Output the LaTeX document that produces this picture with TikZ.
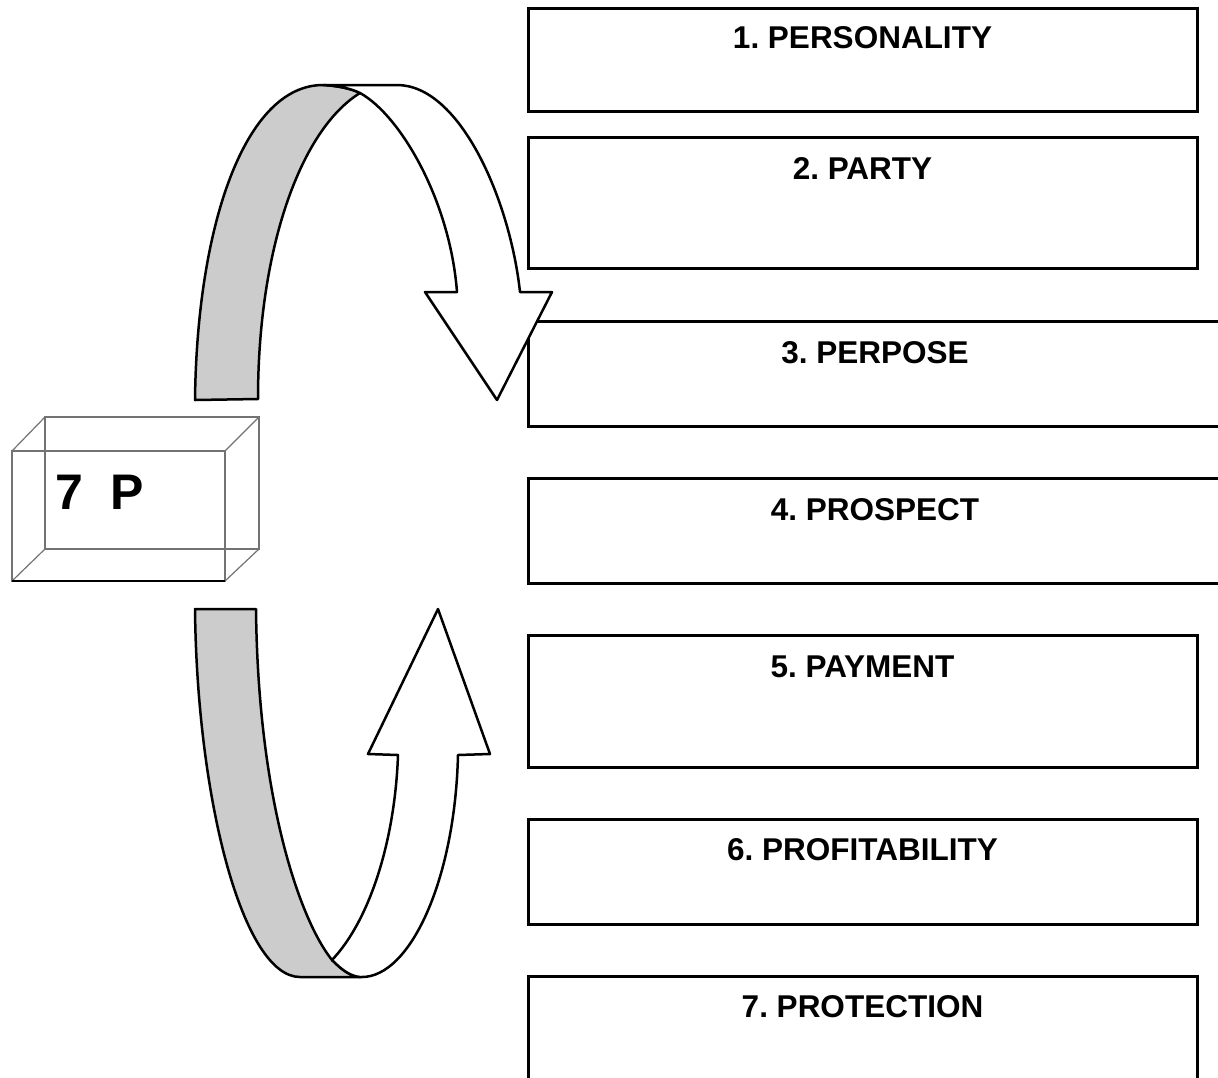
\documentclass[tikz,border=0pt]{standalone}
\usepackage{fontspec}
\setmainfont{Liberation Sans}
\newfontfamily\boldsans{Liberation Sans Bold}
\frenchspacing
\begin{document}
\begin{tikzpicture}[x=1pt,y=-1pt,
  pbox/.style={draw=black, line width=3pt, rectangle, inner sep=0pt, outer sep=0pt, anchor=north west},
  ptext/.style={font=\boldsans\fontsize{31.5}{37}\selectfont, anchor=base, inner sep=0pt},
  ribbon/.style={draw=black, line width=2.5pt, line join=round},
  backface/.style={ribbon, fill=gray!40},
  frontface/.style={ribbon, fill=white},
  cubeline/.style={draw=black!55, line width=1.2pt},
  cubebase/.style={draw=black, line width=2.5pt}]
\useasboundingbox (0,0) rectangle (1218,1077);
\clip (0,0) rectangle (1218,1077);
\fill[white] (0,0) rectangle (1218,1077);

% boxes
\node[pbox, minimum width=669pt, minimum height=103pt] (b1) at (528,8) {};
\node[pbox, minimum width=669pt, minimum height=131pt] (b2) at (528,137) {};
\node[pbox, minimum width=694pt, minimum height=105pt] (b3) at (528,321) {};
\node[pbox, minimum width=694pt, minimum height=105pt] (b4) at (528,478) {};
\node[pbox, minimum width=669pt, minimum height=132pt] (b5) at (528,635) {};
\node[pbox, minimum width=669pt, minimum height=105pt] (b6) at (528,819) {};
\node[pbox, minimum width=669pt, minimum height=130pt] (b7) at (528,976) {};

\node[ptext] (t1) at ([yshift=-40pt]b1.north) {1. PERSONALITY};
\node[ptext] (t2) at ([yshift=-42pt]b2.north) {2. PARTY};
\node[ptext] (t3) at ([yshift=-42pt]b3.north) {3. PERPOSE};
\node[ptext] (t4) at ([yshift=-42pt]b4.north) {4. PROSPECT};
\node[ptext] (t5) at ([yshift=-42pt]b5.north) {5. PAYMENT};
\node[ptext] (t6) at ([yshift=-41pt]b6.north) {6. PROFITABILITY};
\node[ptext] (t7) at ([yshift=-41pt]b7.north) {7. PROTECTION};

% cube
\draw[cubeline] (45,417) rectangle (259,549);
\draw[cubeline] (12,451) rectangle (225,581);
\draw[cubeline] (12,451) -- (45,417);
\draw[cubeline] (225,451) -- (259,417);
\draw[cubeline] (12,581) -- (45,549);
\draw[cubeline] (225,581) -- (259,549);
\draw[cubebase] (12,581) -- (225,581);
\node[font=\boldsans\fontsize{50}{60}\selectfont, anchor=base west, inner sep=0pt] (sevenp) at (55,509) {7\ \ P};

% top arrow
\filldraw[backface] (195,400) .. controls (197,225) and (245,85) .. (323,85)
  .. controls (340,86) and (352,89) .. (360,93)
  .. controls (300,130) and (258,250) .. (258,399) -- cycle;
\filldraw[frontface] (323,85) -- (397,85) .. controls (460,85) and (510,200) .. (520,292)
  -- (552,292) -- (497,400) -- (425,292) -- (457,292)
  .. controls (450,200) and (400,115) .. (360,93)
  .. controls (352,89) and (340,86) .. (323,85) -- cycle;

% bottom arrow
\filldraw[backface] (195,609) -- (256,609) .. controls (258,800) and (300,920) .. (332,960)
  .. controls (342,970) and (350,976) .. (360,977) -- (300,977)
  .. controls (243,977) and (197,800) .. (195,609) -- cycle;
\filldraw[frontface] (332,960) .. controls (370,920) and (395,840) .. (398,755)
  -- (368,754) -- (438,609) -- (490,754) -- (458,755)
  .. controls (455,880) and (410,977) .. (362,977) -- (360,977)
  .. controls (350,976) and (342,970) .. (332,960) -- cycle;
\end{tikzpicture}
\end{document}
